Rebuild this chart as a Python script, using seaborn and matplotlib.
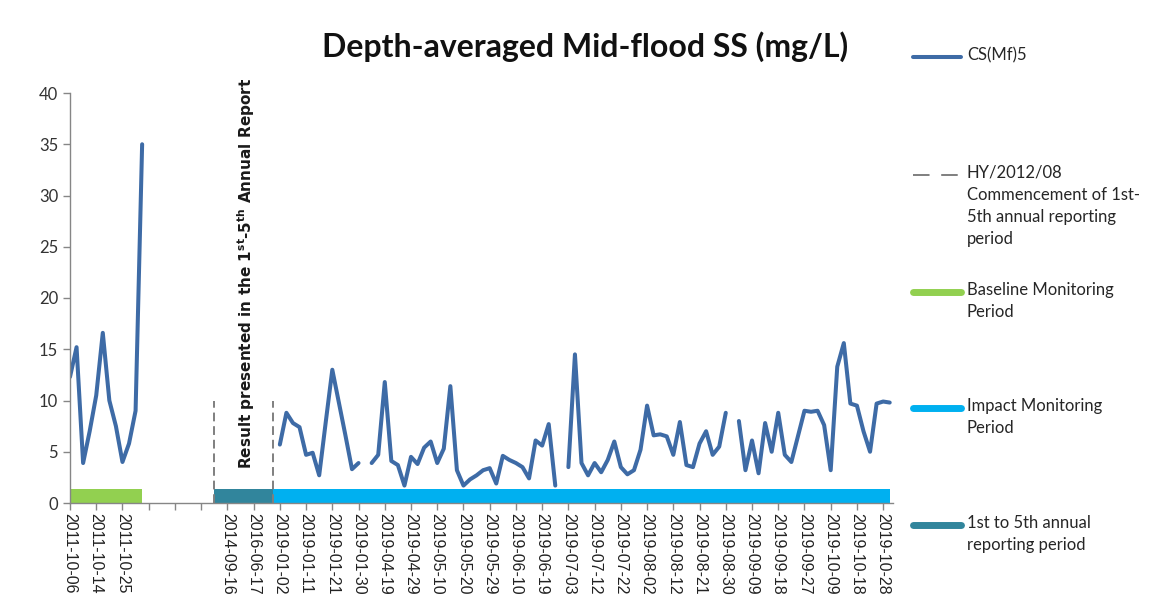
## recreate Excel-style depth-averaged SS chart
from matplotlib import pyplot as plt; import seaborn as sns
from matplotlib.lines import Line2D
import pandas as pd
import numpy as np

# baseline monitoring (2011), one value per category
baseline_ss = [12.3, 15.2, 3.9, 7.0, 10.5, 16.6, 10.0, 7.5, 4.0, 5.8, 9.0, 35.0]
# empty categories between baseline and impact monitoring
n_gap = 20
# impact monitoring (2019), None = no data
impact_ss = [5.7, 8.8, 7.8, 7.4, 4.7, 4.9, 2.7, 7.9, 13.0, 9.8, 6.6, 3.3, 3.9, None,
             3.9, 4.7, 11.8, 4.1, 3.7, 1.7, 4.5, 3.8, 5.4, 6.0, 3.9, 5.3, 11.4, 3.2,
             1.7, 2.3, 2.7, 3.2, 3.4, 1.9, 4.6, 4.2, 3.9, 3.5, 2.4, 6.1, 5.6, 7.7, 1.7, None,
             3.5, 14.5, 3.9, 2.7, 3.9, 3.0, 4.2, 6.0, 3.5, 2.8, 3.2, 5.2, 9.5, 6.6,
             6.7, 6.5, 4.7, 7.9, 3.7, 3.5, 5.8, 7.0, 4.7, 5.5, 8.8, None,
             8.0, 3.2, 6.1, 2.9, 7.8, 5.0, 8.8, 4.7, 4.0, 6.5, 9.0, 8.9, 9.0, 7.6,
             3.2, 13.3, 15.6, 9.7, 9.5, 7.0, 5.0, 9.7, 9.9, 9.8]

tick_step = 4
tick_labels = ['2011-10-06', '2011-10-14', '2011-10-25', '', '', '', '2014-09-16', '2016-06-17',
               '2019-01-02', '2019-01-11', '2019-01-21', '2019-01-30', '2019-04-19', '2019-04-29',
               '2019-05-10', '2019-05-20', '2019-05-29', '2019-06-10', '2019-06-19', '2019-07-03',
               '2019-07-12', '2019-07-22', '2019-08-02', '2019-08-12', '2019-08-21', '2019-08-30',
               '2019-09-09', '2019-09-18', '2019-09-27', '2019-10-09', '2019-10-18', '2019-10-28']

# periods as category ranges (start, end)
baseline_period = (0, 11)
reporting_period = (22, 31)
impact_period = (31, 125)
milestones = [22, 31]     # dashed markers, drawn up to milestone_top
milestone_top = 10
bar_height = 1.4

line_c = '#3E6BA6'
green_c = '#92D050'
teal_c = '#31859C'
blue_c = '#00B0F0'
dash_c = '#7F7F7F'
axis_c = '#868686'

vals = baseline_ss + [None] * n_gap + impact_ss
df = pd.DataFrame({'cat': np.arange(len(vals)), 'ss': pd.array(vals, dtype='float')})
df['seg'] = df['ss'].isna().cumsum()
df = df.dropna()

sns.set_style("white")
plt.rcParams['font.family'] = ['Lato', 'DejaVu Sans']

fig = plt.figure(figsize=(11.59, 6.16), dpi=100)
ax = fig.add_axes([70/1159, 113/616, 823/1159, 410/616])

sns.lineplot(data=df, x='cat', y='ss', units='seg', estimator=None, color=line_c,
             linewidth=2.9, ax=ax, legend=False)

for (a, b), c in [(baseline_period, green_c), (reporting_period, teal_c), (impact_period, blue_c)]:
    ax.fill_between([a, b], 0, bar_height, color=c, linewidth=0, zorder=1)

ax.vlines(milestones, 0, milestone_top, colors=dash_c, linestyles=(0, (4.5, 2.5)), linewidth=1.4, zorder=3)

ax.text(np.mean(milestones) + 0.3, 3.3,
        r'Result presented in the 1$^{\mathbf{st}}$-5$^{\mathbf{th}}$ Annual Report',
        rotation=90, ha='center', va='bottom', fontsize=11, fontweight='bold',
        family='DejaVu Sans', color='#1a1a1a')

ax.set_xlim(0, 125.5)
ax.set_ylim(0, 40)
ax.set_yticks(range(0, 41, 5))
ax.set_xticks(range(0, tick_step * len(tick_labels), tick_step))
ax.set_xticklabels(tick_labels, rotation=270, family='Liberation Sans', fontsize=11.5)
ax.tick_params(axis='y', labelsize=12, colors='#333333', length=5, width=1, color=axis_c, direction='out', left=True)
ax.tick_params(axis='x', colors='#222222', length=5, width=1, color=axis_c, direction='out', bottom=True, pad=2)
ax.set_xlabel('')
ax.set_ylabel('')
sns.despine(ax=ax)
for s in ['left', 'bottom']:
    ax.spines[s].set_color(axis_c)
    ax.spines[s].set_linewidth(1)

fig.text(585/1159, 1 - 47/616, 'Depth-averaged Mid-flood SS (mg/L)', ha='center', va='center',
         fontsize=23, fontweight='bold', color='#111111')

# legend drawn by hand: Excel spaces the entries unevenly
W, H = 1159, 616
def leg_line(y, **kw):
    fig.add_artist(Line2D([913/W, 961/W], [1 - y/H, 1 - y/H], transform=fig.transFigure, **kw))
def leg_text(y, s):
    fig.text(967/W, 1 - y/H, s, ha='left', va='top', fontsize=12, color='#262626', linespacing=1.45)

leg_line(57, color=line_c, linewidth=2.9)
leg_text(47, 'CS(Mf)5')
leg_line(175, color=dash_c, linewidth=1.4, linestyle=(0, (8.5, 6)))
leg_text(165, 'HY/2012/08\nCommencement of 1st-\n5th annual reporting\nperiod')
leg_line(292, color=green_c, linewidth=5)
leg_text(282, 'Baseline Monitoring\nPeriod')
leg_line(408, color=blue_c, linewidth=5)
leg_text(398, 'Impact Monitoring\nPeriod')
leg_line(525, color=teal_c, linewidth=5)
leg_text(515, '1st to 5th annual\nreporting period')

fig.savefig('out.png', dpi=100)
